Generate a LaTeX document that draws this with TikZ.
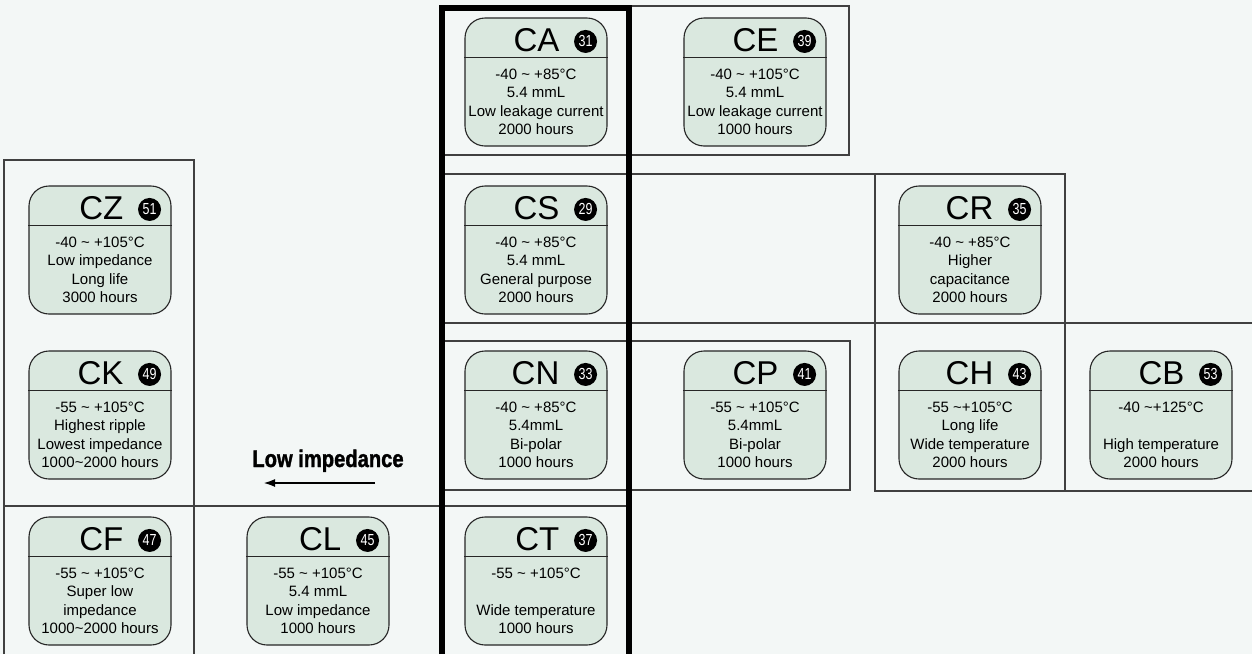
\documentclass[tikz,border=0pt]{standalone}
\usepackage{fontspec}
\setmainfont{Liberation Sans}
\newfontfamily\numfam[FakeStretch=0.78]{Liberation Sans}
\newfontfamily\condfam[FakeStretch=0.84,FakeBold=1.4]{Liberation Sans Bold}
\usepackage{tikz}
\usetikzlibrary{arrows.meta}
\definecolor{bgpaper}{RGB}{243,247,246}
\definecolor{boxgreen}{RGB}{218,232,223}
\definecolor{rulegray}{RGB}{64,64,64}
\newcommand{\tld}{\textasciitilde}

\begin{document}
\begin{tikzpicture}[x=1pt,y=-1pt,
		capbox/.style={draw=black!85, fill=boxgreen, rounded corners=20pt, minimum width=142pt, minimum height=128pt, inner sep=0pt, line width=1.1pt},
		gridline/.style={draw=rulegray, line width=1.5pt},
		seriesno/.style={circle, fill=black, text=white, inner sep=0pt, minimum size=23pt, font=\numfam\fontsize{16}{16}\selectfont}]
				\fill[bgpaper] (0,0) rectangle (1252,654);
				\useasboundingbox (0,0) rectangle (1252,654);

				% cell frames
				\draw[gridline] (442,6) rectangle (849,155);
				\draw[gridline] (442,174) -- (1065,174);
				\draw[gridline] (442,323) -- (1252,323);
				\draw[gridline] (875,174) rectangle (1065,491);
				\draw[gridline] (875,491) -- (1252,491);
				\draw[gridline] (442,341) rectangle (850,490);
				\draw[gridline] (4,654) -- (4,160) -- (194,160) -- (194,654);
				\draw[gridline] (4,506) -- (629,506);
				\draw[line width=6pt, line join=miter] (442,654) -- (442,7.5) -- (629,7.5) -- (629,654);

				% series boxes
				\foreach \nm/\cx/\cy/\num/\body in {
					CA/536/82/31/{-40 \tld{} +85°C\\5.4 mmL\\Low leakage current\\2000 hours},
					CE/755/82/39/{-40 \tld{} +105°C\\5.4 mmL\\Low leakage current\\1000 hours},
					CZ/100/250/51/{-40 \tld{} +105°C\\Low impedance\\Long life\\3000 hours},
					CS/536/250/29/{-40 \tld{} +85°C\\5.4 mmL\\General purpose\\2000 hours},
					CR/970/250/35/{-40 \tld{} +85°C\\Higher\\capacitance\\2000 hours},
					CK/100/415/49/{-55 \tld{} +105°C\\Highest ripple\\Lowest impedance\\1000\tld{}2000 hours},
					CN/536/415/33/{-40 \tld{} +85°C\\5.4mmL\\Bi-polar\\1000 hours},
					CP/755/415/41/{-55 \tld{} +105°C\\5.4mmL\\Bi-polar\\1000 hours},
					CH/970/415/43/{-55 \tld{}+105°C\\Long life\\Wide temperature\\2000 hours},
					CB/1161/415/53/{-40 \tld{}+125°C\\\mbox{}\\High temperature\\2000 hours},
					CF/100/581/47/{-55 \tld{} +105°C\\Super low\\impedance\\1000\tld{}2000 hours},
					CL/318/581/45/{-55 \tld{} +105°C\\5.4 mmL\\Low impedance\\1000 hours},
					CT/536/581/37/{-55 \tld{} +105°C\\\mbox{}\\Wide temperature\\1000 hours}}
				{
					\node[capbox] (\nm) at (\cx,\cy) {};
					\draw[line width=1.1pt, black!85] ([yshift=-40pt]\nm.north west) -- ([yshift=-40pt]\nm.north east);
					\node[anchor=base east, inner sep=0pt, font=\fontsize{33}{33}\selectfont] (\nm-title) at ([xshift=-48pt,yshift=-34pt]\nm.north east) {\nm};
					\node[seriesno] (\nm-no) at ([xshift=-22pt,yshift=-24pt]\nm.north east) {\num};
					\node[align=center, inner sep=0pt, font=\fontsize{15}{18.5}\selectfont] (\nm-text) at ([yshift=-20pt]\nm.center) {\body};
				}

				% impedance arrow
				\coordinate (imp-from) at (375,483);
				\coordinate (imp-to) at (263,483);
				\draw[-{Latex[length=12pt, width=8pt]}, line width=2.2pt] (imp-from) -- (imp-to);
				\node[anchor=base, inner sep=0pt, font=\condfam\fontsize{24}{24}\selectfont] (lowimp) at (328,467) {Low impedance};
\end{tikzpicture}
\end{document}
